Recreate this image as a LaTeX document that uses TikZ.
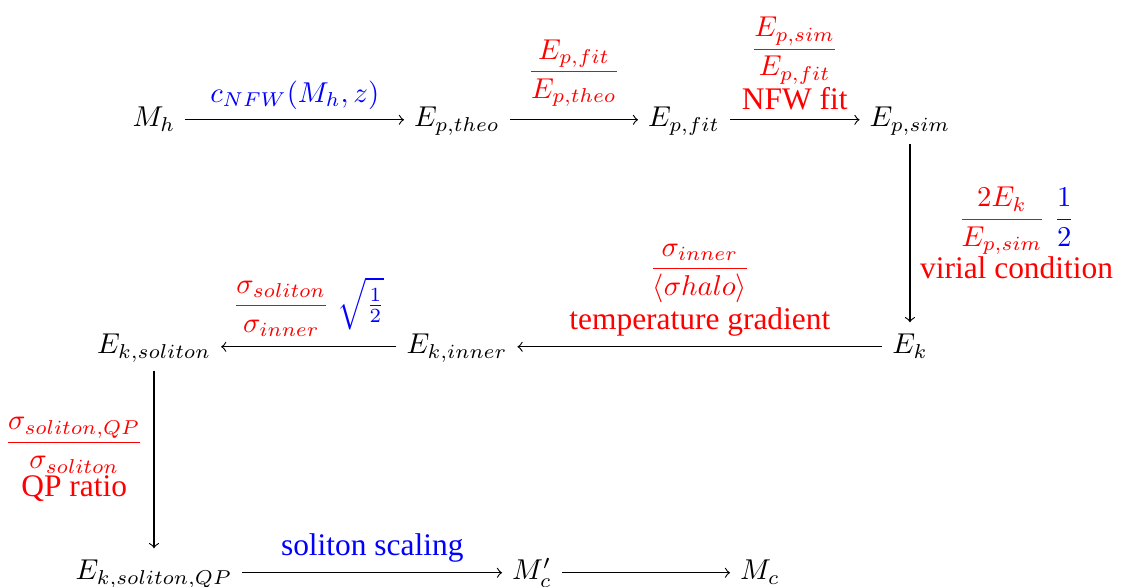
\documentclass[tikz,border=0pt,11pt]{standalone}
\usepackage[no-math]{fontspec}
\setmainfont{Liberation Serif}
\newfontfamily\labfont{Liberation Serif}
\usepackage{amsmath}
\DeclareMathSizes{10.95}{10}{7}{5}
\begin{document}
\begin{tikzpicture}[
  obj/.style={anchor=base,text height=7.5pt,text depth=2.5pt,inner sep=3.33pt},
  lab/.style={text=red,align=center,inner sep=3.33pt,font=\labfont},
  arr/.style={->}]
\useasboundingbox (0,0) rectangle (13.765,7.188);
% top row: potential energy chain
\node[obj] (Mh) at (1.886,5.633) {$M_h$};
\node[obj] (Ept) at (5.596,5.633) {$E_{p,theo}$};
\node[obj] (Epf) at (8.376,5.633) {$E_{p,fit}$};
\node[obj] (Eps) at (11.144,5.633) {$E_{p,sim}$};
% middle row: kinetic energy
\node[obj] (Ek) at (11.144,2.853) {$E_k$};
\node[obj] (Ein) at (5.596,2.853) {$E_{k,inner}$};
\node[obj] (Esol) at (1.886,2.853) {$E_{k,soliton}$};
% bottom row: core mass
\node[obj] (Eqp) at (1.886,0.086) {$E_{k,soliton,QP}$};
\node[obj] (Mcp) at (6.515,0.086) {$M_c'$};
\node[obj] (Mc) at (9.307,0.086) {$M_c$};
% arrows
\draw[arr] (Mh) -- node[lab,above,text=blue] (cnfw) {$c_{NFW}(M_h,z)$} (Ept);
\draw[arr] (Ept) -- node[lab,above,yshift=1pt] (fitr) {$\dfrac{E_{p,fit}}{E_{p,theo}}$} (Epf);
\draw[arr] (Epf) -- node[lab,above] (simr) {$\dfrac{E_{p,sim}}{E_{p,fit}}$\\NFW fit} (Eps);
\draw[arr] (Eps) -- node[lab,right] (vir) {$\dfrac{2E_k}{E_{p,sim}}$ \textcolor{blue}{$\dfrac{1}{2}$}\\virial condition} (Ek);
\draw[arr] (Ek) -- node[lab,above] (tgr) {$\dfrac{\sigma_{inner}}{\langle\sigma halo\rangle}$\\[1pt]temperature gradient} (Ein);
\draw[arr] (Ein) -- node[lab,above] (solr) {$\dfrac{\sigma_{soliton}}{\sigma_{inner}}$ \textcolor{blue}{$\sqrt{\frac{1}{2}}$}} (Esol);
\draw[arr] (Esol) -- node[lab,left] (qpr) {$\dfrac{\sigma_{soliton,QP}}{\sigma_{soliton}}$\\QP ratio} (Eqp);
\draw[arr] (Eqp) -- node[lab,above,text=blue] (scal) {soliton scaling} (Mcp);
\draw[arr] (Mcp) -- (Mc);
\end{tikzpicture}
\end{document}
